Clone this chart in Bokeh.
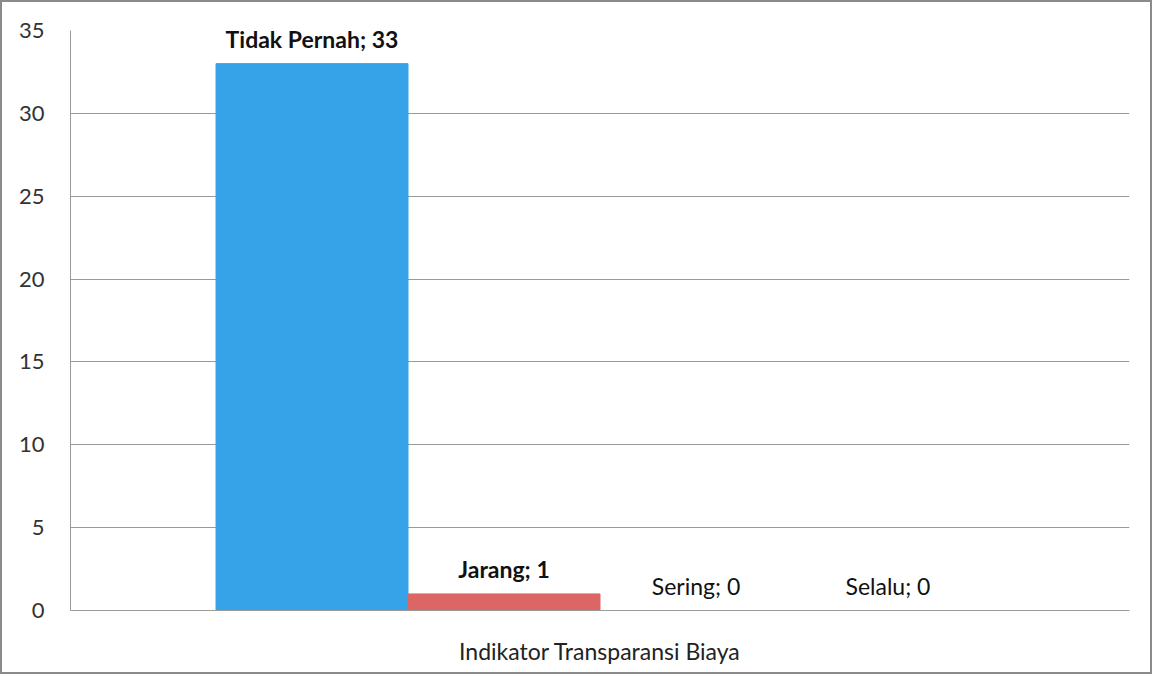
from bokeh.plotting import figure
from bokeh.models import ColumnDataSource, Range1d, FixedTicker, LabelSet
from bokeh.core.properties import value
from bokeh.embed import file_html
from bokeh.resources import INLINE

category = ["Indikator Transparansi Biaya"]
series = ["Tidak Pernah", "Jarang", "Sering", "Selalu"]
counts = [33, 1, 0, 0]
colors = ["#36A2E8", "#DC6664", "#9BBB59", "#8064A2"]
y_ticks = [0, 5, 10, 15, 20, 25, 30, 35]

FONT = "Lato"

xs = list(range(len(series)))
labels = [f"{s}; {c}" for s, c in zip(series, counts)]
bold = ["bold" if c > 0 else "normal" for c in counts]
src = ColumnDataSource(dict(x=xs, top=counts, color=colors, label=labels, style=bold))

center = (len(series) - 1) / 2
half = 2.758
p = figure(width=1152, height=674, output_backend="svg", toolbar_location=None,
           x_range=Range1d(center - half, center + half), y_range=Range1d(0, 35),
           min_border_left=68, min_border_right=25, min_border_top=28, min_border_bottom=66)
p.styles = {"border": "2px solid #8a8a8a", "box-sizing": "border-box"}

p.vbar(x="x", top="top", width=1.0, color="color", source=src)

labs = LabelSet(x="x", y="top", text="label", source=src, text_align="center",
                text_baseline="bottom", y_offset=11, text_font=value(FONT),
                text_font_size="23px", text_font_style="style", text_color="#111111")
p.add_layout(labs)

p.outline_line_color = None
p.xgrid.visible = False
p.ygrid.grid_line_color = "#9a9a9a"
p.ygrid.grid_line_width = 1
p.yaxis.ticker = FixedTicker(ticks=y_ticks)
p.yaxis.axis_line_color = "#9a9a9a"
p.yaxis.major_tick_line_color = None
p.yaxis.minor_tick_line_color = None
p.yaxis.major_label_standoff = 20
p.yaxis.major_label_text_font = FONT
p.yaxis.major_label_text_font_size = "22px"
p.yaxis.major_label_text_color = "#333333"

p.xaxis.ticker = FixedTicker(ticks=[center])
p.xaxis.major_label_overrides = {center: category[0]}
p.xaxis.axis_line_color = "#9a9a9a"
p.xaxis.major_tick_line_color = None
p.xaxis.minor_tick_line_color = None
p.xaxis.major_label_standoff = 20
p.xaxis.major_label_text_font = FONT
p.xaxis.major_label_text_font_size = "23px"
p.xaxis.major_label_text_color = "#222222"

open("out.html", "w").write(file_html(p, INLINE))
